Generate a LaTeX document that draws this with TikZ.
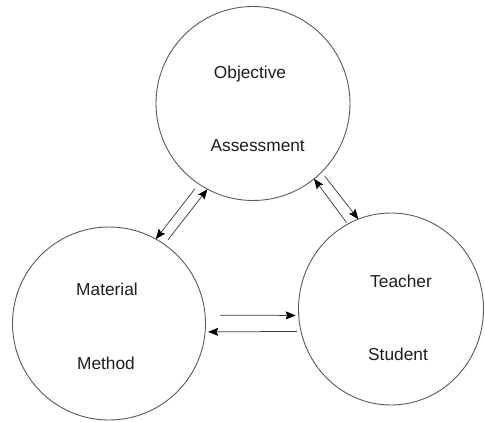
\documentclass[tikz,border=0pt]{standalone}
\usepackage{fontspec}
\setmainfont{Liberation Sans}
\usetikzlibrary{arrows.meta,shapes.geometric}
\definecolor{ringgray}{HTML}{5A5A5A}
\definecolor{linegray}{HTML}{404040}
\definecolor{textgray}{HTML}{1E1E1E}
\begin{document}
\begin{tikzpicture}[x=1pt,y=1pt,
  ring/.style={draw=ringgray, line width=0.9pt, inner sep=0pt, outer sep=0pt},
  lbl/.style={anchor=base, text=textgray, inner sep=0pt, font=\fontsize{17.3}{20}\selectfont},
  link/.style={draw=linegray, line width=0.75pt, -{Stealth[length=10pt,width=8pt,inset=1.5pt,color=black]}}
]
\useasboundingbox (0,0) rectangle (485,421);
\fill[white] (0,0) rectangle (485,421);
% circles
\node[ring, circle, minimum size=194pt] (T) at (253,317.5) {};
\node[ring, circle, minimum size=193pt] (L) at (109,97.5) {};
\node[ring, ellipse, minimum width=185pt, minimum height=192pt] (R) at (391,112) {};
% labels
\node[lbl] (obj) at (250,342) {Objective};
\node[lbl] (ass) at (257.7,269.3) {Assessment};
\node[lbl] (mat) at (107,125) {Material};
\node[lbl] (met) at (106,52) {Method};
\node[lbl] (tea) at (401,134) {Teacher};
\node[lbl] (stu) at (398,60.3) {Student};
% connectors T <-> L
\draw[link, shorten <=6pt] (T.236) -- (L.61);
\draw[link, shorten <=6pt] (L.55) -- (T.242);
% connectors T <-> R
\draw[link, shorten <=2pt] (R.117) -- (T.309);
\draw[link, shorten <=5pt] (T.315) -- (R.110);
% connectors L <-> R
\draw[link, shorten <=15pt, shorten >=3pt] (L.5) -- (R.184);
\draw[link, shorten <=4pt, shorten >=3pt] (R.194) -- (L.355.5);
\end{tikzpicture}
\end{document}
